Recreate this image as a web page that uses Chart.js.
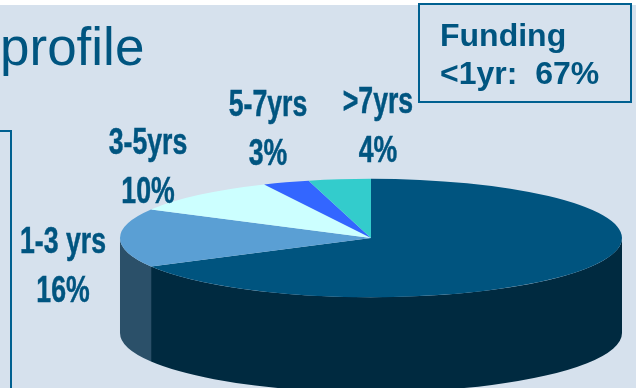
<!DOCTYPE html>
<html>
<head>
<meta charset="utf-8">
<script src="https://cdn.jsdelivr.net/npm/chart.js@4"></script>
<style>
  html, body { margin: 0; padding: 0; width: 636px; height: 388px; overflow: hidden; background: #d6e1ed; }
  #wrap { position: relative; width: 636px; height: 388px; }
  canvas { position: absolute; left: 0; top: 0; }
  .strip { position: absolute; left: 0; top: 0; width: 636px; height: 5px; background: #fff; }
  .title { position: absolute; left: 0; top: 17px; font: 53px "Liberation Sans", Arial, sans-serif; color: #005580; line-height: 60px; }
  .side { position: absolute; left: -3px; top: 130px; width: 11px; height: 270px; border: 2px solid #006090; }
  .funding { position: absolute; left: 418px; top: 3px; width: 214px; height: 100px; border: 2px solid #006090; box-sizing: border-box;
    font: bold 32px/38px "Liberation Sans", Arial, sans-serif; color: #005580; padding: 11px 0 0 20px; white-space: pre; }
</style>
</head>
<body>
<div id="wrap">
  <canvas id="pie" width="636" height="388"></canvas>
  <div class="strip"></div>
  <div class="title">profile</div>
  <div class="side"></div>
  <div class="funding">Funding
&lt;1yr:  67%</div>
</div>
<script>
let categories = ['<1yr', '1-3 yrs', '3-5yrs', '5-7yrs', '>7yrs'];
let shares = [67, 16, 10, 3, 4];
let sliceColors = ['#00547f', '#5a9fd4', '#ccffff', '#3366ff', '#33cccc'];
let wallColors = ['#002a40', '#2b5069', '#668080', '#1a3380', '#1a6666'];

// label centres for the outer slices, first one has no label of its own
let labelSpots = [null, [63, 243], [148, 144], [268, 106], [378, 103]];

const squash = 59 / 250;
const depth = 95;
const narrow = 0.74;

const pie3d = {
  id: 'pie3d',
  beforeDatasetsDraw(chart) {
    const ctx = chart.ctx;
    const arcs = chart.getDatasetMeta(0).data;
    const cx = arcs[0].x, cy = arcs[0].y;
    const rx = arcs[0].outerRadius, ry = rx * squash;

    // side wall, only the front half of the rim is visible
    arcs.forEach((arc, i) => {
      const a = Math.max(arc.startAngle, 0);
      const b = Math.min(arc.endAngle, Math.PI);
      if (b <= a) return;
      ctx.beginPath();
      ctx.ellipse(cx, cy, rx, ry, 0, a, b);
      ctx.ellipse(cx, cy + depth, rx, ry, 0, b, a, true);
      ctx.closePath();
      ctx.fillStyle = wallColors[i];
      ctx.fill();
    });

    // flatten the top face
    ctx.save();
    ctx.translate(cx, cy);
    ctx.scale(1, squash);
    ctx.translate(-cx, -cy);
  },
  afterDatasetsDraw(chart) {
    const ctx = chart.ctx;
    ctx.restore();

    // no condensed face installed, so narrow the bold one by hand
    ctx.fillStyle = '#005580';
    ctx.strokeStyle = '#005580';
    ctx.lineWidth = 0.5;
    ctx.textAlign = 'center';
    ctx.textBaseline = 'middle';
    ctx.font = 'bold 36px "Liberation Sans", sans-serif';
    labelSpots.forEach((spot, i) => {
      if (!spot) return;
      ctx.save();
      ctx.translate(spot[0], spot[1]);
      ctx.scale(narrow, 1);
      ctx.fillText(categories[i], 0, 0);
      ctx.strokeText(categories[i], 0, 0);
      ctx.fillText(shares[i] + '%', 0, 49);
      ctx.strokeText(shares[i] + '%', 0, 49);
      ctx.restore();
    });
  }
};

let chart = new Chart(document.getElementById('pie').getContext('2d'), {
  type: 'pie',
  data: {
    labels: categories,
    datasets: [{
      data: shares,
      backgroundColor: sliceColors,
      borderWidth: 0,
      clip: false
    }]
  },
  options: {
    responsive: false,
    animation: false,
    radius: 251,
    layout: { padding: { left: 106, top: 88 } },
    plugins: {
      legend: { display: false },
      tooltip: { enabled: false }
    }
  },
  plugins: [pie3d]
});
</script>
</body>
</html>
